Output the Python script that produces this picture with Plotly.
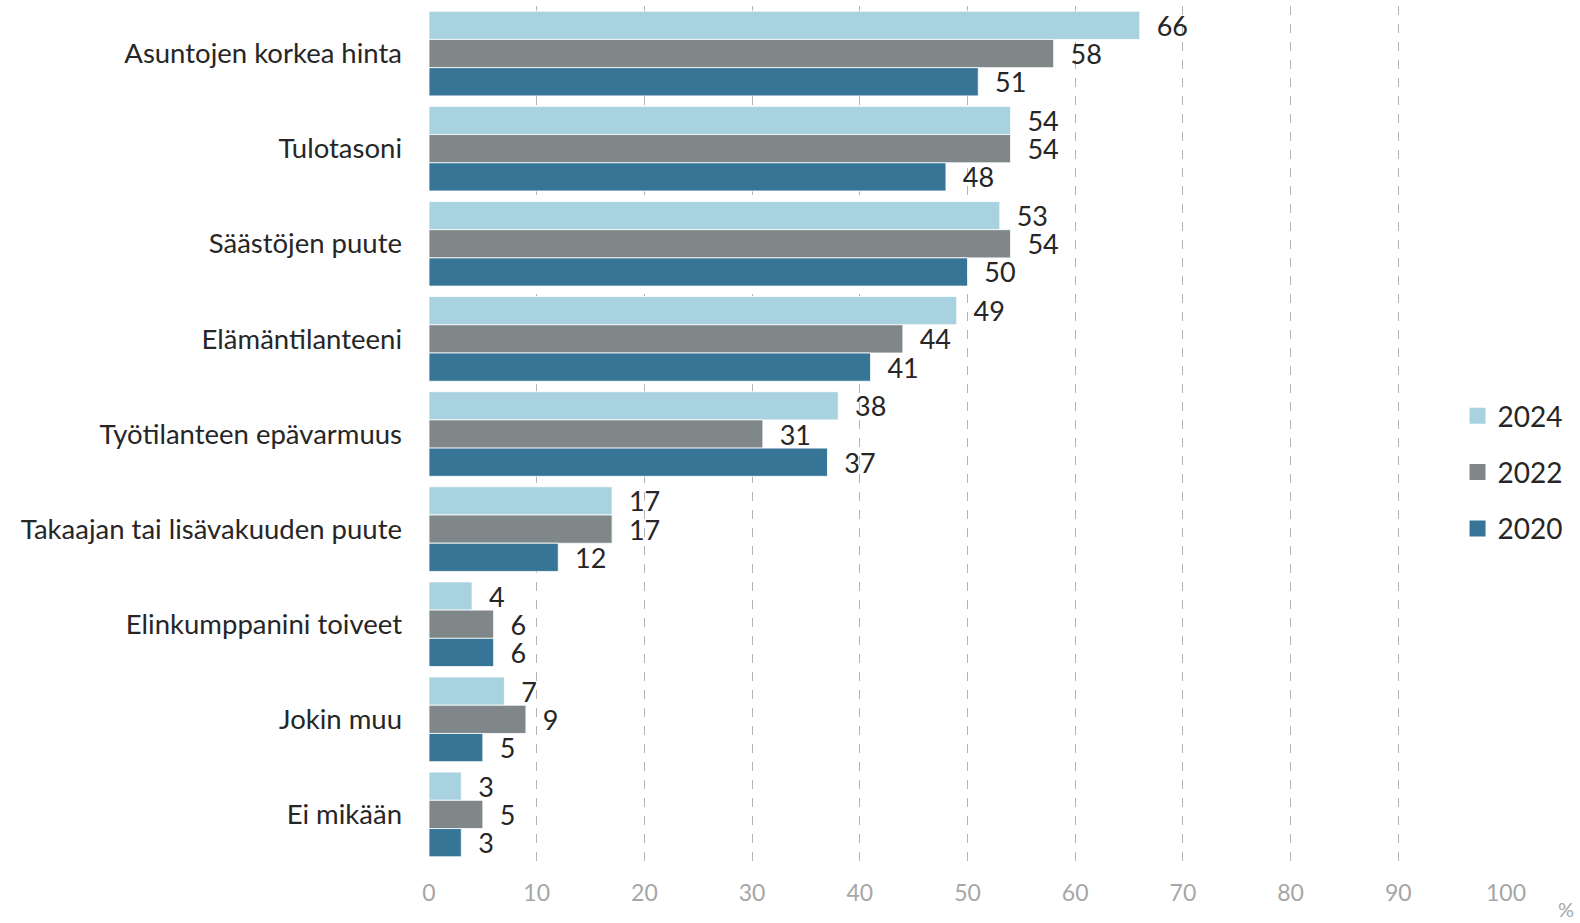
import plotly.graph_objects as go

categories = [
    "Asuntojen korkea hinta",
    "Tulotasoni",
    "Säästöjen puute",
    "Elämäntilanteeni",
    "Työtilanteen epävarmuus",
    "Takaajan tai lisävakuuden puute",
    "Elinkumppanini toiveet",
    "Jokin muu",
    "Ei mikään",
]
years = ["2024", "2022", "2020"]
values_2024 = [66, 54, 53, 49, 38, 17, 4, 7, 3]
values_2022 = [58, 54, 54, 44, 31, 17, 6, 9, 5]
values_2020 = [51, 48, 50, 41, 37, 12, 6, 5, 3]
x_ticks = [0, 10, 20, 30, 40, 50, 60, 70, 80, 90, 100]

series = [values_2024, values_2022, values_2020]
colors = ["#a8d2e0", "#7f8789", "#377596"]

FONT = "Lato"
fig = go.Figure()
for year, vals, col in zip(years, series, colors):
    fig.add_trace(go.Bar(
        y=categories,
        x=vals,
        name=year,
        orientation="h",
        marker=dict(color=col, line=dict(color="rgba(255,255,255,0.8)", width=1)),
        texttemplate="  %{x}",
        textposition="outside",
        constraintext="none",
        textfont=dict(family=FONT, size=27, color="#262626"),
        cliponaxis=False,
        showlegend=False,
        hoverinfo="skip",
    ))

# legend entries with larger square swatches
for year, col in zip(years, colors):
    fig.add_trace(go.Scatter(
        x=[None], y=[None],
        mode="markers",
        name=year,
        legendgroup=year,
        marker=dict(symbol="square", size=18, color=col),
        showlegend=True,
        hoverinfo="skip",
    ))

fig.update_layout(
    width=1580,
    height=923,
    barmode="group",
    bargap=0.11,
    bargroupgap=0,
    plot_bgcolor="white",
    paper_bgcolor="white",
    margin=dict(l=429, r=74, t=6, b=61),
    font=dict(family=FONT, color="#262626"),
    showlegend=True,
    legend=dict(
        x=0.955, xanchor="left",
        y=0.455, yanchor="middle",
        bgcolor="white",
        font=dict(family=FONT, size=28, color="#262626"),
        tracegroupgap=17,
        traceorder="grouped",
        itemsizing="trace",
    ),
    xaxis=dict(
        range=[0, 100],
        tickvals=x_ticks,
        showgrid=True,
        gridcolor="#b4b4b4",
        griddash="dash",
        gridwidth=1,
        zeroline=False,
        showline=False,
        ticks="",
        tickfont=dict(family=FONT, size=23, color="#a6a6a6"),
        ticklabelstandoff=15,
        fixedrange=True,
    ),
    yaxis=dict(
        categoryorder="array",
        categoryarray=categories,
        autorange="reversed",
        showgrid=False,
        zeroline=False,
        showline=False,
        ticks="",
        tickfont=dict(family=FONT, size=27.5, color="#262626"),
        ticklabelstandoff=26,
        fixedrange=True,
    ),
    annotations=[dict(
        text="%",
        xref="paper", yref="paper",
        x=1.0, y=0, xshift=60, yshift=-47,
        xanchor="center", yanchor="middle",
        showarrow=False,
        font=dict(family=FONT, size=20, color="#a6a6a6"),
    )],
)

fig.write_html("out.html")
